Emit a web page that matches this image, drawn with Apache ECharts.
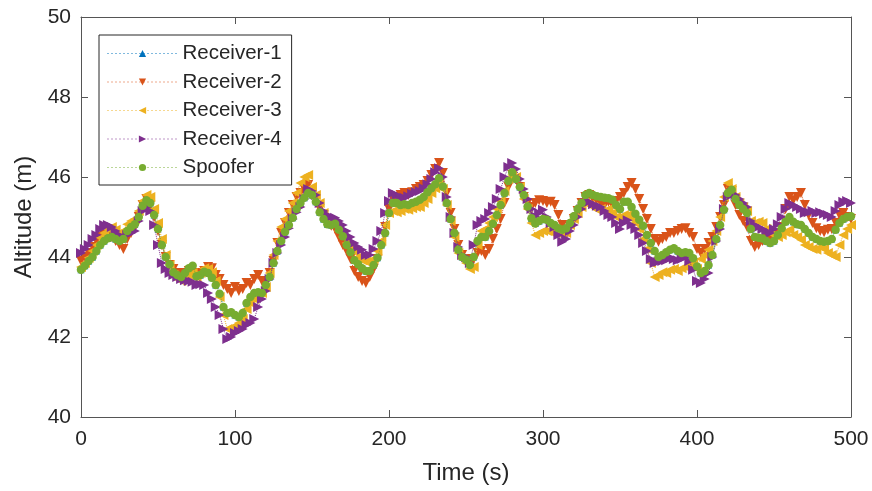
<!DOCTYPE html>
<html>
<head>
<meta charset="utf-8">
<script src="https://cdn.jsdelivr.net/npm/echarts@6/dist/echarts.min.js"></script>
<style>
html,body{margin:0;padding:0;background:#fff;}
#c{width:872px;height:491px;}
</style>
</head>
<body>
<div id="c"></div>
<script>
// Sampling: one value every 2.5 s from 0 to 500 s
const timeStep = 2.5;
const xTicks = [0, 100, 200, 300, 400, 500];
const yTicks = [40, 42, 44, 46, 48, 50];
const seriesNames = ['Receiver-1', 'Receiver-2', 'Receiver-3', 'Receiver-4', 'Spoofer'];

const spoofer = [
43.68,43.78,43.9,44.0,44.15,44.3,44.4,44.47,44.5,44.45,44.4,44.45,44.65,44.75,44.82,45.0,45.28,45.42,45.35,45.05,
44.7,44.3,44.0,43.82,43.62,43.55,43.5,43.6,43.72,43.78,43.52,43.55,43.63,43.6,43.48,43.3,43.08,42.75,42.6,42.62,
42.55,42.5,42.6,42.85,43.0,43.1,43.12,43.1,43.3,43.5,43.85,44.15,44.4,44.63,44.8,44.98,45.2,45.35,45.48,45.6,
45.55,45.38,45.12,44.95,44.82,44.8,44.83,44.68,44.52,44.3,44.12,43.92,43.82,43.72,43.65,43.65,43.8,43.98,44.3,44.6,
45.1,45.35,45.35,45.3,45.32,45.3,45.35,45.38,45.43,45.5,45.62,45.72,45.82,45.97,45.76,45.35,44.95,44.6,44.18,44.0,
43.93,43.8,44.0,44.4,44.5,44.5,44.65,44.83,45.05,45.3,45.6,45.9,46.12,45.95,45.75,45.55,45.26,44.97,44.84,44.9,
44.95,44.93,44.85,44.8,44.72,44.68,44.72,44.85,45.02,45.2,45.35,45.55,45.6,45.55,45.52,45.5,45.48,45.47,45.43,45.3,
45.2,45.38,45.38,45.25,45.08,44.93,44.78,44.55,44.35,44.15,44.0,44.05,44.12,44.18,44.22,44.15,44.1,44.12,44.1,43.97,
43.76,43.6,43.65,43.8,44.05,44.45,44.8,45.18,45.6,45.68,45.45,45.3,45.2,45.1,44.7,44.5,44.48,44.46,44.4,44.35,
44.4,44.55,44.72,44.88,45.0,44.88,44.82,44.8,44.7,44.6,44.5,44.45,44.4,44.38,44.4,44.45,44.68,44.85,44.95,45.0,
45.02];

// Receiver-1 follows the spoofed track (hidden beneath it)
const receiver1 = [
43.68,43.78,43.9,44.0,44.15,44.3,44.4,44.47,44.5,44.45,44.4,44.45,44.65,44.75,44.82,45.0,45.28,45.42,45.35,45.05,
44.7,44.3,44.0,43.82,43.62,43.55,43.5,43.6,43.72,43.78,43.52,43.55,43.63,43.6,43.48,43.3,43.08,42.75,42.6,42.62,
42.55,42.5,42.6,42.85,43.0,43.1,43.12,43.1,43.3,43.5,43.85,44.15,44.4,44.63,44.8,44.98,45.2,45.35,45.48,45.6,
45.55,45.38,45.12,44.95,44.82,44.8,44.83,44.68,44.52,44.3,44.12,43.92,43.82,43.72,43.65,43.65,43.8,43.98,44.3,44.6,
45.1,45.35,45.35,45.3,45.32,45.3,45.35,45.38,45.43,45.5,45.62,45.72,45.82,45.97,45.76,45.35,44.95,44.6,44.18,44.0,
43.93,43.8,44.0,44.4,44.5,44.5,44.65,44.83,45.05,45.3,45.6,45.9,46.12,45.95,45.75,45.55,45.26,44.97,44.84,44.9,
44.95,44.93,44.85,44.8,44.72,44.68,44.72,44.85,45.02,45.2,45.35,45.55,45.6,45.55,45.52,45.5,45.48,45.47,45.43,45.3,
45.2,45.38,45.38,45.25,45.08,44.93,44.78,44.55,44.35,44.15,44.0,44.05,44.12,44.18,44.22,44.15,44.1,44.12,44.1,43.97,
43.76,43.6,43.65,43.8,44.05,44.45,44.8,45.18,45.6,45.68,45.45,45.3,45.2,45.1,44.7,44.5,44.48,44.46,44.4,44.35,
44.4,44.55,44.72,44.88,45.0,44.88,44.82,44.8,44.7,44.6,44.5,44.45,44.4,44.38,44.4,44.45,44.68,44.85,44.95,45.0,
45.02];

const receiver2 = [
43.9,44.0,44.1,44.25,44.4,44.5,44.55,44.55,44.5,44.4,44.3,44.2,44.45,44.6,44.75,45.0,45.3,45.45,45.3,45.0,
44.65,44.3,44.0,43.8,43.7,43.6,43.55,43.6,43.65,43.6,43.5,43.6,43.65,43.75,43.72,43.55,43.45,43.3,43.2,43.1,
43.25,43.15,43.2,43.35,43.3,43.45,43.55,43.4,43.35,43.6,43.9,44.35,44.6,44.85,45.1,45.3,45.5,45.6,45.7,45.8,
45.62,45.45,45.2,45.05,44.9,44.78,44.7,44.5,44.3,44.15,43.95,43.65,43.5,43.4,43.35,43.5,43.7,43.95,44.3,44.75,
45.2,45.45,45.5,45.55,45.6,45.55,45.62,45.7,45.75,45.8,45.9,46.05,46.2,46.35,46.1,45.6,45.1,44.7,44.3,44.05,
43.95,43.8,43.95,44.1,44.15,44.05,44.2,44.45,44.7,44.95,45.35,45.75,46.05,45.95,45.75,45.5,45.35,45.25,45.35,45.42,
45.4,45.35,45.38,45.3,45.05,44.8,44.62,44.75,44.95,45.15,45.35,45.5,45.55,45.45,45.4,45.35,45.3,45.38,45.3,45.4,
45.5,45.6,45.75,45.85,45.7,45.45,45.2,44.95,44.7,44.45,44.38,44.45,44.5,44.6,44.6,44.65,44.7,44.72,44.6,44.5,
44.2,44.1,44.2,44.35,44.5,44.75,45.0,45.3,45.7,45.65,45.3,45.05,44.9,44.75,44.4,44.25,44.3,44.4,44.5,44.48,
44.45,44.6,44.75,45.2,45.5,45.42,45.5,45.6,45.3,45.05,44.85,44.72,44.65,44.62,44.68,44.7,44.85,45.05,45.1,45.0,
44.95];

const receiver3 = [
43.75,43.85,43.98,44.15,44.3,44.48,44.6,44.7,44.75,44.68,44.6,44.65,44.82,44.9,44.95,45.15,45.4,45.55,45.5,45.2,
44.85,44.45,44.05,43.8,43.55,43.45,43.4,43.45,43.55,43.6,43.5,43.6,43.72,43.7,43.62,43.4,43.0,42.55,42.2,42.2,
42.28,42.35,42.45,42.7,42.85,42.95,43.05,43.1,43.25,43.6,44.05,44.4,44.75,44.95,45.15,45.35,45.6,45.85,46.0,46.05,
45.75,45.55,45.35,45.1,44.95,44.88,44.8,44.65,44.5,44.35,44.25,44.13,44.0,43.92,43.88,43.9,43.95,44.15,44.4,44.8,
45.1,45.15,45.12,45.15,45.2,45.18,45.22,45.25,45.25,45.35,45.45,45.6,45.72,45.85,45.7,45.3,44.9,44.5,44.1,43.95,
43.85,43.7,43.75,44.3,44.65,44.7,44.85,45.0,45.2,45.4,45.65,45.95,46.05,46.0,45.75,45.45,45.2,44.85,44.55,44.6,
44.65,44.65,44.62,44.6,44.58,44.55,44.6,44.8,44.95,45.1,45.25,45.35,45.3,45.25,45.18,45.2,45.15,45.2,45.1,45.0,
44.95,45.05,45.05,44.95,44.85,44.7,44.45,44.2,43.85,43.5,43.55,43.62,43.6,43.68,43.7,43.65,43.72,43.75,43.82,43.85,
43.7,43.95,44.05,44.18,44.4,44.65,45.0,45.5,45.85,45.7,45.5,45.35,45.25,45.15,44.9,44.85,44.88,44.85,44.7,44.6,
44.55,44.5,44.55,44.62,44.68,44.55,44.5,44.43,44.3,44.25,44.2,44.18,44.25,44.2,44.1,44.05,44.0,44.3,44.55,44.7,
44.8];

const receiver4 = [
44.1,44.2,44.3,44.45,44.55,44.7,44.8,44.8,44.75,44.65,44.55,44.45,44.55,44.6,44.65,44.9,45.15,45.25,45.15,44.8,
44.3,43.85,43.7,43.6,43.55,43.5,43.45,43.42,43.4,43.38,43.3,43.32,43.3,43.1,42.95,42.75,42.55,42.2,41.95,42.0,
42.1,42.15,42.2,42.3,42.35,42.45,42.75,42.95,43.15,43.45,43.85,44.1,44.3,44.5,44.72,44.95,45.12,45.25,45.45,45.7,
45.65,45.55,45.35,45.15,45.05,45.0,44.98,44.9,44.8,44.65,44.5,44.35,44.25,44.18,44.05,44.05,44.2,44.4,44.65,45.1,
45.4,45.6,45.55,45.5,45.48,45.52,45.58,45.62,45.65,45.72,45.82,45.95,46.12,46.22,46.0,45.5,45.0,44.6,44.25,44.05,
44.0,43.85,44.3,44.8,44.9,44.95,45.1,45.25,45.45,45.7,46.0,46.25,46.35,46.2,45.95,45.7,45.45,45.2,45.02,45.1,
45.18,45.0,44.85,44.75,44.55,44.38,44.45,44.65,44.8,45.0,45.2,45.35,45.38,45.32,45.28,45.25,45.15,45.05,45.0,44.85,
44.7,44.85,44.92,44.8,44.7,44.55,44.35,44.15,43.95,43.85,43.88,43.9,43.92,43.97,43.95,43.92,43.95,44.0,43.9,43.68,
43.4,43.35,43.45,43.6,44.0,44.4,44.7,45.2,45.5,45.6,45.55,45.45,45.35,45.25,44.9,44.8,44.75,44.7,44.65,44.6,
44.7,44.82,45.0,45.2,45.35,45.3,45.25,45.2,45.1,45.12,45.15,45.1,45.12,45.08,45.05,45.0,45.15,45.3,45.38,45.4,
45.35];

const colors = ['#0072BD', '#D95319', '#EDB120', '#7E2F8E', '#77AC30'];
const symbols = ['triangle', 'triangle', 'triangle', 'triangle', 'circle'];
const rotations = [0, 180, 90, -90, 0];
const symbolSizes = [7, 10, 10, 10, 8.5];
const allValues = [receiver1, receiver2, receiver3, receiver4, spoofer];

function toPairs(arr) {
  return arr.map((v, i) => [i * timeStep, v]);
}

const FONT = '"Liberation Sans", Arial, Helvetica, sans-serif';
const TXT = '#262626';
const AX = '#555555';

const chart = echarts.init(document.getElementById('c'), null, {renderer: 'canvas'});

const series = seriesNames.map((name, k) => ({
  name: name,
  type: 'line',
  data: toPairs(allValues[k]),
  symbol: symbols[k],
  symbolSize: symbolSizes[k],
  symbolRotate: rotations[k],
  showSymbol: true,
  showAllSymbol: true,
  color: colors[k],
  itemStyle: {color: colors[k], borderWidth: 0},
  lineStyle: {color: colors[k], width: 1, type: 'dotted'},
  emphasis: {disabled: true},
  animation: false,
  z: 2 + k
}));

const option = {
  animation: false,
  backgroundColor: '#ffffff',
  grid: {left: 81, right: 21, top: 17, bottom: 74, containLabel: false},
  legend: {
    orient: 'vertical',
    left: 99,
    top: 35,
    padding: [8, 10, 7, 8],
    itemGap: 7.5,
    itemWidth: 70,
    itemHeight: 9,
    backgroundColor: '#ffffff',
    borderColor: '#262626',
    borderWidth: 1,
    data: seriesNames.map((n, k) => ({name: n, itemStyle: {color: colors[k]}})),
    lineStyle: {width: 1, type: [1, 3]},
    textStyle: {fontFamily: FONT, fontSize: 20.5, color: TXT, padding: [0, 0, 0, 0]},
    selectedMode: false
  },
  xAxis: [{
    type: 'value',
    min: 0, max: 500, interval: 100,
    name: 'Time (s)',
    nameLocation: 'middle',
    nameGap: 44,
    nameTextStyle: {fontFamily: FONT, fontSize: 24, color: TXT},
    axisLine: {show: true, onZero: false, lineStyle: {color: AX, width: 1}},
    axisTick: {show: true, inside: true, length: 7, lineStyle: {color: AX}},
    axisLabel: {fontFamily: FONT, fontSize: 21, color: TXT, margin: 12,
      formatter: v => (xTicks.indexOf(v) >= 0 ? String(v) : '')},
    splitLine: {show: false}
  }, {
    type: 'value', position: 'top',
    min: 0, max: 500, interval: 100,
    axisLine: {show: true, onZero: false, lineStyle: {color: AX, width: 1}},
    axisTick: {show: true, inside: true, length: 7, lineStyle: {color: AX}},
    axisLabel: {show: false},
    splitLine: {show: false}
  }],
  yAxis: [{
    type: 'value',
    min: 40, max: 50, interval: 2,
    name: 'Altitude (m)',
    nameLocation: 'middle',
    nameGap: 41,
    nameTextStyle: {fontFamily: FONT, fontSize: 24, color: TXT},
    axisLine: {show: true, onZero: false, lineStyle: {color: AX, width: 1}},
    axisTick: {show: true, inside: true, length: 7, lineStyle: {color: AX}},
    axisLabel: {fontFamily: FONT, fontSize: 21, color: TXT, margin: 10,
      formatter: v => (yTicks.indexOf(v) >= 0 ? String(v) : '')},
    splitLine: {show: false}
  }, {
    type: 'value', position: 'right',
    min: 40, max: 50, interval: 2,
    axisLine: {show: true, onZero: false, lineStyle: {color: AX, width: 1}},
    axisTick: {show: true, inside: true, length: 7, lineStyle: {color: AX}},
    axisLabel: {show: false},
    splitLine: {show: false}
  }],
  series: series
};

chart.setOption(option);
</script>
</body>
</html>
